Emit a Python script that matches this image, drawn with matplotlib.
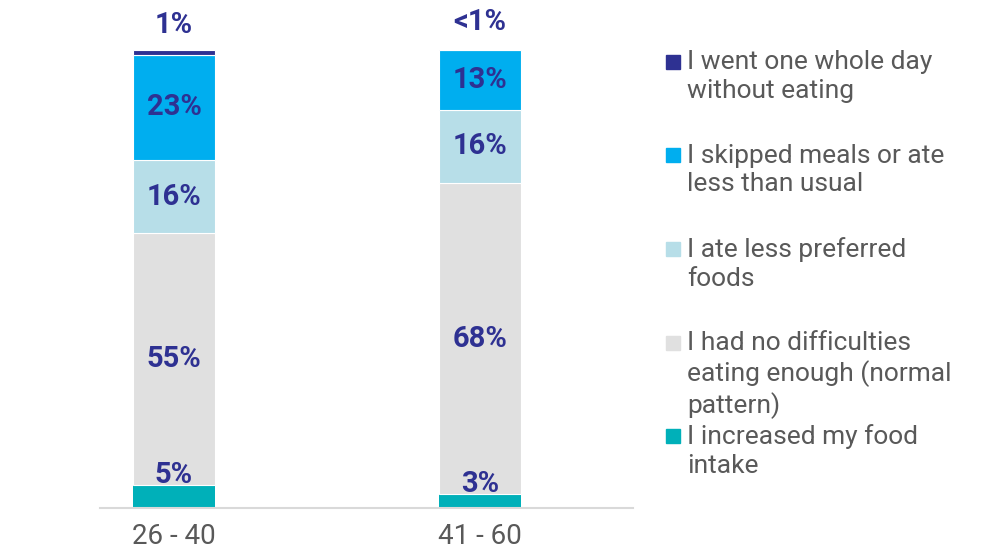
import matplotlib.pyplot as plt
from matplotlib.patches import Rectangle

# age groups and answer shares (percent), bottom to top
groups = ['26 - 40', '41 - 60']
categories = [
    'I increased my food\nintake',
    'I had no difficulties\neating enough (normal\npattern)',
    'I ate less preferred\nfoods',
    'I skipped meals or ate\nless than usual',
    'I went one whole day\nwithout eating',
]
increased = [5, 3]
normal = [55, 68]
less_preferred = [16, 16]
skipped = [23, 13]
whole_day = [1, 0.6]
whole_day_labels = ['1%', '<1%']

colors = ['#00B0B9', '#E0E0E0', '#B7DEE8', '#00AEEF', '#2E3192']
label_color = '#2E3192'
text_gray = '#595959'

plt.rcParams['font.family'] = ['Roboto', 'DejaVu Sans']

fig = plt.figure(figsize=(9.84, 5.52), dpi=100)
ax = fig.add_axes([100 / 984, 1 - 508 / 552, 533 / 984, 458 / 552])

series = [increased, normal, less_preferred, skipped, whole_day]
x = list(range(len(groups)))
bottom = [0.0] * len(groups)
for k, vals in enumerate(series):
    ax.bar(x, vals, width=0.268, bottom=bottom, color=colors[k],
           edgecolor='white', linewidth=0.8 if k > 0 else 0)
    for i, v in enumerate(vals):
        if k == 0:
            # small base segment: label sits just over it
            ax.text(x[i], bottom[i] + v + 2.3, f'{v}%', ha='center', va='center',
                    fontsize=21, fontweight='bold', color=label_color, clip_on=False)
        elif k == len(series) - 1:
            ax.text(x[i], bottom[i] + v + 5.5, whole_day_labels[i], ha='center', va='center',
                    fontsize=21, fontweight='bold', color=label_color, clip_on=False)
        else:
            ax.text(x[i], bottom[i] + v / 2, f'{v}%', ha='center', va='center',
                    fontsize=21, fontweight='bold', color=label_color)
    bottom = [b + v for b, v in zip(bottom, vals)]

ax.set_xlim(-0.242, 1.5)
ax.set_ylim(0, 100)
ax.set_xticks(x)
ax.set_xticklabels(groups, fontsize=20, color=text_gray)
ax.tick_params(axis='x', length=0, pad=11)
ax.set_yticks([])
for side in ['top', 'right', 'left']:
    ax.spines[side].set_visible(False)
ax.spines['bottom'].set_color('#D9D9D9')
ax.spines['bottom'].set_linewidth(1.5)

# legend, top entry first, fixed slots
leg_top = 62
slot = 93.5
for j, k in enumerate(reversed(range(len(categories)))):
    y = leg_top + j * slot
    fig.patches.append(Rectangle((666 / 984, 1 - (y + 7) / 552), 14 / 984, 14 / 552,
                                 transform=fig.transFigure, color=colors[k]))
    fig.text(687 / 984, 1 - (y - 12) / 552, categories[k], ha='left', va='top',
             fontsize=19, color=text_gray, linespacing=1.25)

fig.savefig('out.png', dpi=100)
